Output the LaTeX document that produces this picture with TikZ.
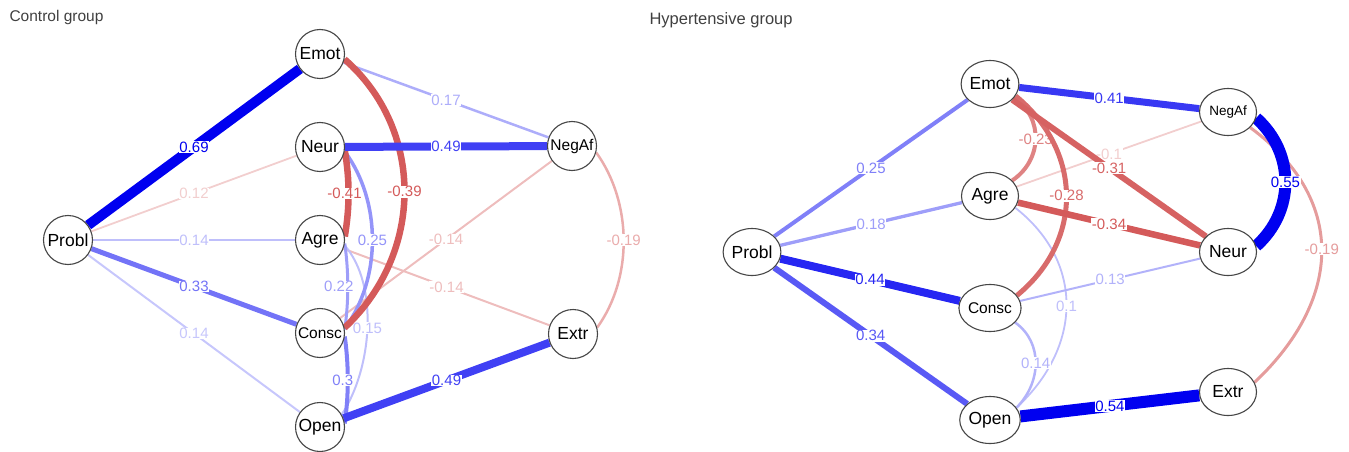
\documentclass[tikz,border=0pt]{standalone}
\usepackage{fontspec}
\setmainfont{Liberation Sans}
\usetikzlibrary{shapes.geometric,backgrounds}
\definecolor{posc}{RGB}{0,0,240}
\definecolor{negc}{RGB}{212,90,90}
\definecolor{rim}{RGB}{70,70,70}
\tikzset{
  netnode/.style={circle, draw=rim, line width=1.1pt, fill=white, minimum size=49pt, inner sep=0pt,
    font=\fontsize{17.5}{17.5}\selectfont},
  netnodeR/.style={netnode, ellipse, minimum width=57pt, minimum height=47pt},
  small/.style={font=\fontsize{15.5}{15.5}\selectfont},
  elab/.style={midway, fill=white, inner sep=0.6pt, font=\fontsize{15}{15}\selectfont},
  grouptitle/.style={anchor=west, text=black!75, font=\fontsize{15.5}{15.5}\selectfont}
}
\begin{document}
\begin{tikzpicture}[x=1pt,y=-1pt]
\useasboundingbox (0,0) rectangle (1349,452);
\node[grouptitle] (ttlL) at (6,17) {Control group};
\node[grouptitle, font=\fontsize{16.5}{16.5}\selectfont] (ttlR) at (646,20) {Hypertensive group};

% control group
\node[netnode] (problL) at (68,240) {Probl};
\node[netnode] (emotL) at (320,54) {Emot};
\node[netnode] (neurL) at (320,147) {Neur};
\node[netnode] (agreL) at (320,240) {Agre};
\node[netnode, small] (conscL) at (320,333) {Consc};
\node[netnode] (openL) at (320,427) {Open};
\node[netnode, small] (negafL) at (572,146) {NegAf};
\node[netnode] (extrL) at (573,334) {Extr};

\begin{pgfonlayer}{background}
\draw[negc!30, line width=1.8pt] (problL) -- node[elab]{0.12} (neurL);
\draw[posc!25, line width=2pt] (problL) -- node[elab]{0.14} (agreL);
\draw[posc!22, line width=2pt] (problL) -- node[elab]{0.14} (openL);
\draw[negc!40, line width=2pt] (agreL) -- node[elab]{-0.14} (extrL);
\draw[negc!40, line width=2pt] (negafL) -- node[elab]{-0.14} (conscL);
\draw[posc!25, line width=2pt] (agreL.-12) .. controls +(35,40) and +(30,-45) .. node[elab]{0.15} (openL.30);
\draw[posc!32, line width=2.5pt] (emotL) -- node[elab]{0.17} (negafL);
\draw[negc!50, line width=2.5pt] (negafL.-15) .. controls +(36,50) and +(36,-50) .. node[elab]{-0.19} (extrL.15);
\draw[posc!38, line width=3pt] (agreL.-8) .. controls +(4,30) and +(4,-30) .. node[elab, xshift=-9pt]{0.22} (conscL.8);
\draw[posc!42, line width=3.5pt] (neurL.-10) .. controls +(37,50) and +(37,-50) .. node[elab]{0.25} (conscL.10);
\draw[posc!50, line width=4pt] (conscL.-8) .. controls +(4,30) and +(4,-30) .. node[elab, xshift=-5pt]{0.3} (openL.8);
\draw[posc!55, line width=5pt] (problL) -- node[elab]{0.33} (conscL);
\draw[negc, line width=6.5pt] (emotL.-12) .. controls +(80,70) and +(80,-75) .. node[elab]{-0.39} (conscL.12);
\draw[negc, line width=6.5pt] (neurL.-8) .. controls +(5,30) and +(5,-30) .. node[elab, xshift=-4pt]{-0.41} (agreL.8);
\draw[posc!75, line width=8pt] (neurL) -- node[elab]{0.49} (negafL);
\draw[posc!75, line width=8pt] (openL) -- node[elab]{0.49} (extrL);
\draw[posc, line width=10pt] (problL) -- node[elab]{0.69} (emotL);
\end{pgfonlayer}

% hypertensive group
\node[netnodeR] (problR) at (752,252) {Probl};
\node[netnodeR] (emotR) at (990,84) {Emot};
\node[netnodeR] (agreR) at (990,196) {Agre};
\node[netnodeR, small] (conscR) at (990,308) {Consc};
\node[netnodeR] (openR) at (990,420) {Open};
\node[netnodeR, font=\fontsize{13.5}{13.5}\selectfont] (negafR) at (1228,112) {NegAf};
\node[netnodeR] (neurR) at (1228,252) {Neur};
\node[netnodeR] (extrR) at (1228,392) {Extr};

\begin{pgfonlayer}{background}
\draw[negc!30, line width=1.8pt] (agreR) -- node[elab]{-0.1} (negafR);
\draw[posc!25, line width=1.8pt] (agreR.-25) .. controls +(70,55) and +(65,-60) .. node[elab]{0.1} (openR.25);
\draw[posc!30, line width=2pt] (conscR) -- node[elab]{0.13} (neurR);
\draw[posc!30, line width=2.5pt] (conscR.-30) .. controls +(28,20) and +(25,-25) .. node[elab]{0.14} (openR.25);
\draw[posc!38, line width=3.3pt] (problR) -- node[elab]{0.18} (agreR);
\draw[negc!60, line width=3pt] (negafR.-35) .. controls +(95,70) and +(90,-85) .. node[elab]{-0.19} (extrR.20);
\draw[negc!75, line width=4pt] (emotR.-30) .. controls +(30,20) and +(30,-20) .. node[elab]{-0.23} (agreR.35);
\draw[posc!50, line width=4pt] (problR) -- node[elab]{0.25} (emotR);
\draw[negc!90, line width=5pt] (emotR.-25) .. controls +(67,55) and +(67,-55) .. node[elab]{-0.28} (conscR.25);
\draw[negc!95, line width=6pt] (emotR) -- node[elab]{-0.31} (neurR);
\draw[posc!65, line width=6pt] (problR) -- node[elab]{0.34} (openR);
\draw[negc, line width=6.5pt] (agreR) -- node[elab]{-0.34} (neurR);
\draw[posc!78, line width=7pt] (emotR) -- node[elab]{0.41} (negafR);
\draw[posc!85, line width=8pt] (problR) -- node[elab]{0.44} (conscR);
\draw[posc, line width=12pt] (openR) -- node[elab]{0.54} (extrR);
\draw[posc, line width=12pt] (negafR.-12) .. controls +(39,35) and +(39,-35) .. node[elab]{0.55} (neurR.12);
\end{pgfonlayer}
\end{tikzpicture}
\end{document}
